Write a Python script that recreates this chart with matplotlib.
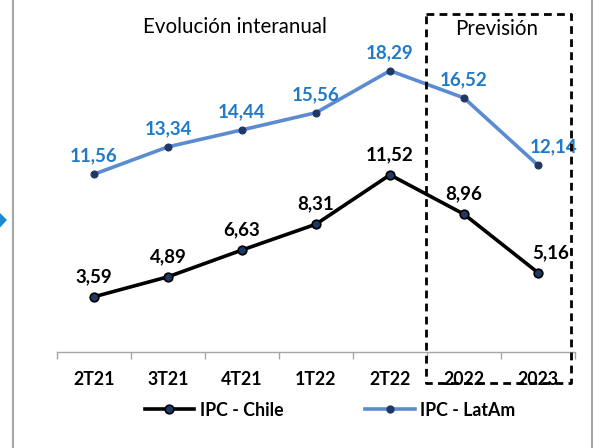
import matplotlib
matplotlib.use("Agg")
import matplotlib.pyplot as plt
from matplotlib.lines import Line2D
from matplotlib.patches import Polygon

categories = ["2T21", "3T21", "4T21", "1T22", "2T22", "2022", "2023"]
ipc_chile = [3.59, 4.89, 6.63, 8.31, 11.52, 8.96, 5.16]
ipc_latam = [11.56, 13.34, 14.44, 15.56, 18.29, 16.52, 12.14]
series_names = ["IPC - Chile", "IPC - LatAm"]
title_text = "Evolución interanual"
forecast_text = "Previsión"

plt.rcParams['font.family'] = ['Lato', 'DejaVu Sans']

W, H = 596, 448
fig = plt.figure(figsize=(W / 100, H / 100), dpi=100)
fig.patch.set_facecolor("white")

def fx(px):
    return px / W

def fy(py):
    return 1 - py / H

# axes: x from 57 to 575 px, y baseline 352 px, y=20 at ~44.4 px
ax = fig.add_axes([fx(57), fy(352), fx(575) - fx(57), fy(44.4) - fy(352)])
ax.set_xlim(-0.5, len(categories) - 0.5)
ax.set_ylim(0, 20)
ax.patch.set_alpha(0)

x = list(range(len(categories)))
chile_col = "#000000"
latam_col = "#5b8bd0"
marker_col = "#1f3864"
lbl_latam = "#1f7bc8"

ax.plot(x, ipc_latam, color=latam_col, lw=2.6, marker="o", ms=5,
        mfc=marker_col, mec=marker_col, mew=0.8, zorder=3, solid_capstyle="round")
ax.plot(x, ipc_chile, color=chile_col, lw=2.6, marker="o", ms=6.2,
        mfc=marker_col, mec="#000000", mew=1.2, zorder=4, solid_capstyle="round")

# label offsets (points): shift last labels to the right
dx_pts = [0, 0, 0, 0, 0, 0, 11]
for i in x:
    ax.annotate(f"{ipc_latam[i]:.2f}".replace(".", ","), (i, ipc_latam[i]),
                xytext=(dx_pts[i], 13), textcoords="offset points",
                ha="center", va="center", fontsize=13.5, fontweight="bold",
                color=lbl_latam, zorder=5)
    ax.annotate(f"{ipc_chile[i]:.2f}".replace(".", ","), (i, ipc_chile[i]),
                xytext=(dx_pts[i] * 0.8, 14.5), textcoords="offset points",
                ha="center", va="center", fontsize=13.5, fontweight="bold",
                color="#000000", zorder=5)

# axes styling
for s in ["top", "right", "left"]:
    ax.spines[s].set_visible(False)
ax.spines["bottom"].set_color("#a6a6a6")
ax.spines["bottom"].set_linewidth(1.0)
ax.set_yticks([])
ax.set_xticks([i - 0.5 for i in range(len(categories) + 1)], minor=False)
ax.set_xticklabels([])
ax.tick_params(axis="x", length=5, color="#a6a6a6", width=1.0)
ylab = (fy(379) - fy(352)) / (fy(44.4) - fy(352))
for i, c in enumerate(categories):
    ax.text(i, ylab, c, transform=ax.get_xaxis_transform(), ha="center", va="center",
            fontsize=12.8, fontweight="bold", color="#000000")

# titles
fig.text(fx(235), fy(27), title_text, ha="center", va="center", fontsize=14.8, color="#000000")
fig.text(fx(497), fy(29), forecast_text, ha="center", va="center", fontsize=14.8, color="#000000")

# borders
fig.add_artist(Line2D([fx(13), fx(13)], [0, 1], color="#a6a6a6", lw=1.5))
fig.add_artist(Line2D([fx(592), fx(592)], [0, 1], color="#a6a6a6", lw=1.5))
fig.add_artist(Polygon([[fx(-6), fy(207)], [fx(7), fy(220)], [fx(-6), fy(234)]],
                       closed=True, facecolor="#1a8ad4", edgecolor="none"))

# dashed forecast box
bx0, bx1, by0, by1 = fx(426), fx(571), fy(383), fy(14)
fig.add_artist(Line2D([bx0, bx1, bx1, bx0, bx0], [by1, by1, by0, by0, by1],
                      color="#000000", lw=2.0, linestyle=(0, (2.8, 1.9))))

# legend
handles = [
    Line2D([], [], color=chile_col, lw=2.6, marker="o", ms=6.2, mfc=marker_col, mec="#000000", mew=1.2),
    Line2D([], [], color=latam_col, lw=2.6, marker="o", ms=5, mfc=marker_col, mec=marker_col),
]
leg = fig.legend(handles, series_names, loc="center", bbox_to_anchor=(fx(330), fy(410)),
                 ncol=2, frameon=False, handlelength=2.8, handletextpad=0.3,
                 columnspacing=4.6, prop={"size": 12.8, "weight": "bold"})

fig.savefig("out.png", dpi=100, facecolor="white")
